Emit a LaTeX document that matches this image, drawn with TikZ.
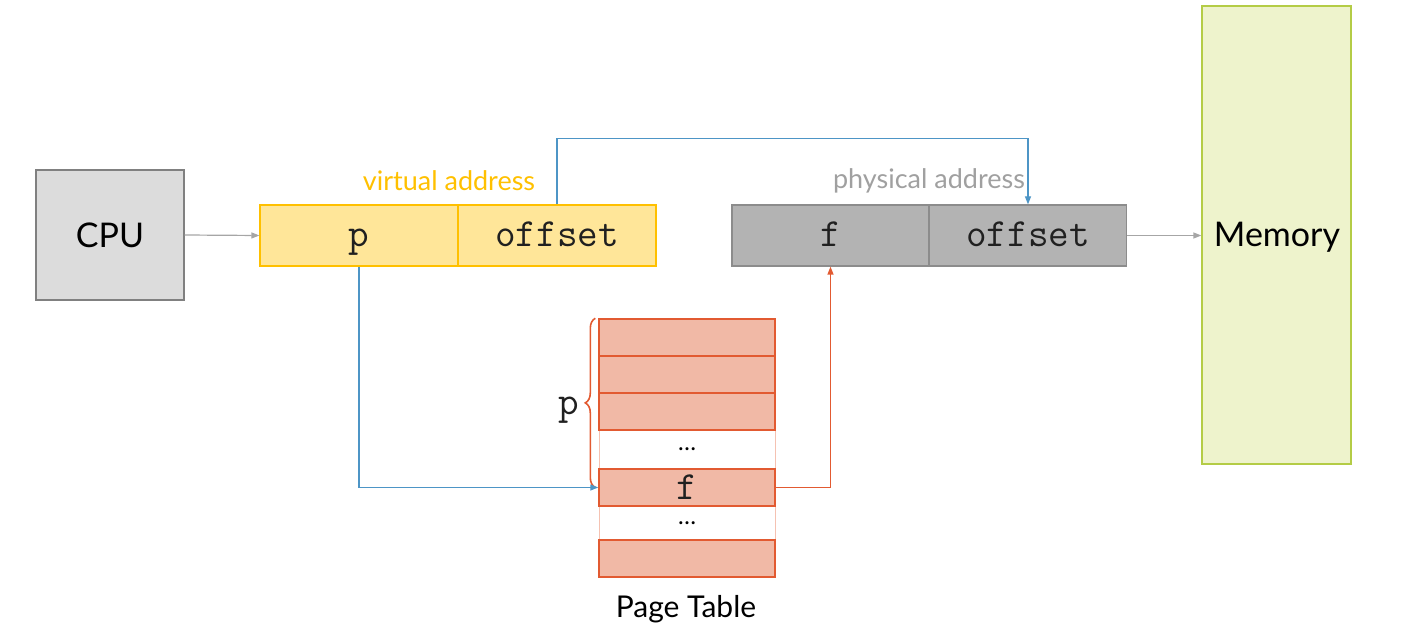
\documentclass[tikz,border=0pt]{standalone}
\usepackage{fontspec}
\setmainfont{Lato}
\usetikzlibrary{arrows.meta,decorations.pathreplacing}
\definecolor{cpufill}{HTML}{DCDCDC}
\definecolor{cpudraw}{HTML}{808080}
\definecolor{vfill}{HTML}{FFE699}
\definecolor{vdraw}{HTML}{FFC000}
\definecolor{pfill}{HTML}{B3B3B3}
\definecolor{pdraw}{HTML}{8C8C8C}
\definecolor{plabel}{HTML}{A0A0A0}
\definecolor{memfill}{HTML}{EEF3CC}
\definecolor{memdraw}{HTML}{B4CC46}
\definecolor{ptfill}{HTML}{F1B9A6}
\definecolor{ptdraw}{HTML}{E25A31}
\definecolor{ptlight}{HTML}{F5C2B2}
\definecolor{bluel}{HTML}{4D95C6}
\definecolor{grayl}{HTML}{A6A6A6}
\definecolor{monotext}{HTML}{202020}
\begin{document}
\begin{tikzpicture}[x=1pt,y=-1pt,
  box/.style={draw, line width=1.2pt, inner sep=0pt, anchor=center},
  monotxt/.style={font=\ttfamily\fontsize{40}{40}\selectfont, text=monotext, text height=23pt, text depth=0pt},
  cell/.style={box, draw=vdraw, fill=vfill, minimum width=198pt, minimum height=61pt, monotxt},
  pcell/.style={box, draw=pdraw, fill=pfill, minimum width=197pt, minimum height=61pt, monotxt},
  row/.style={box, draw=ptdraw, fill=ptfill, minimum width=176pt, line width=1.4pt},
  dotrow/.style={box, draw=ptlight, fill=white, minimum width=176pt, line width=1pt, font=\fontsize{24}{24}\selectfont},
  tip/.style={-{Triangle[length=8pt,width=6pt]}},
  conn/.style={line width=1.2pt, tip}
]
\useasboundingbox (0,0) rectangle (1416,636);
% CPU
\node[box, draw=cpudraw, fill=cpufill, minimum width=148pt, minimum height=130pt, font=\fontsize{34}{34}\selectfont] (cpu) at (110,235) {CPU};
% virtual address
\node[cell] (vp) at (359,235.5) {p};
\node[cell] (voff) at (557,235.5) {offset};
\node[text=vdraw, font=\fontsize{27}{27}\selectfont] (vlabel) at (449,181) {virtual address};
% physical address
\node[pcell] (pf) at (830.5,235.5) {f};
\node[pcell] (poff) at (1028,235.5) {offset};
\node[text=plabel, font=\fontsize{27}{27}\selectfont] (plab) at (929,181) {physical address};
% Memory
\node[box, draw=memdraw, fill=memfill, minimum width=149pt, minimum height=458pt] (mem) at (1276.5,235) {};
\node[font=\fontsize{34}{34}\selectfont] (memlabel) at (1277,237) {Memory};
% Page table
\node[dotrow, minimum height=39pt] (r4) at (687,449.5) {\dots};
\node[dotrow, minimum height=34pt] (r6) at (687,523) {\dots};
\node[row, minimum height=37pt] (r1) at (687,337.5) {};
\node[row, minimum height=37pt] (r2) at (687,374.5) {};
\node[row, minimum height=37pt] (r3) at (687,411.5) {};
\node[row, minimum height=37pt, monotxt] (r5) at (687,487.5) {f};
\node[row, minimum height=37pt] (r7) at (687,558.5) {};
\node[font=\fontsize{30}{30}\selectfont] (ptlabel) at (686,609) {Page Table};
% brace
\draw[ptdraw, line width=1.6pt, decorate, decoration={brace, amplitude=10pt}]
  ([xshift=-3pt]r5.west) -- ([xshift=-3pt]r1.north west)
  node[midway, left=12pt, monotxt] (pbr) {p};
% connectors
\draw[conn, grayl] (cpu.east) -- (vp.west);
\draw[conn, grayl] (poff.east) -- (mem.west |- poff.east);
\draw[conn, bluel] (vp.south) |- (r5.west);
\draw[conn, bluel] (voff.north) -- ++(0,-66) -| (poff.north);
\draw[conn, ptdraw] (r5.east) -| (pf.south);
\end{tikzpicture}
\end{document}
